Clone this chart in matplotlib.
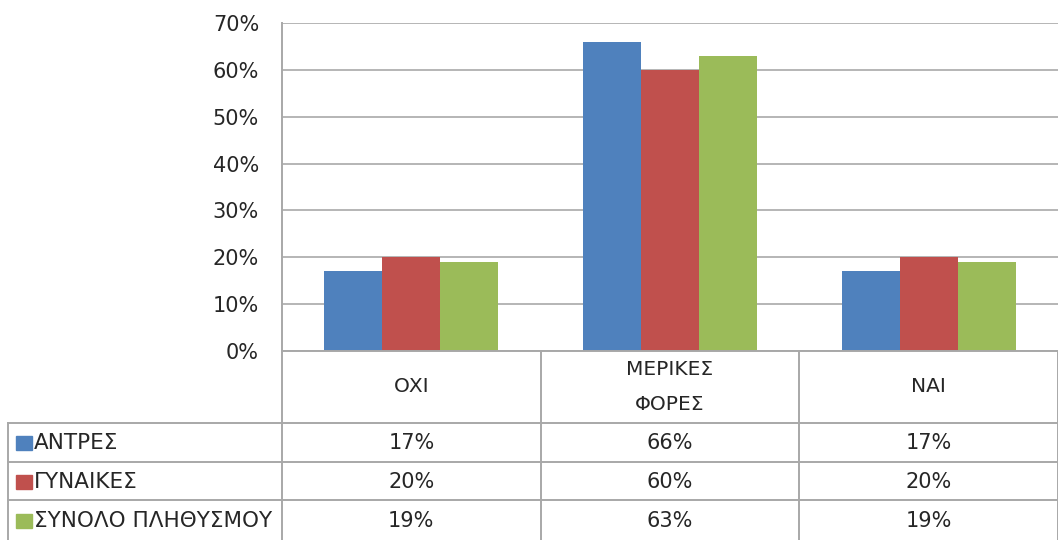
import matplotlib
matplotlib.use("Agg")
import matplotlib.pyplot as plt
from matplotlib.lines import Line2D
from matplotlib.patches import Rectangle

plt.rcParams['font.family'] = ['DejaVu Sans']

categories = ["ΟΧΙ", "ΜΕΡΙΚΕΣ\nΦΟΡΕΣ", "ΝΑΙ"]
series_names = ["ΑΝΤΡΕΣ", "ΓΥΝΑΙΚΕΣ", "ΣΥΝΟΛΟ ΠΛΗΘΥΣΜΟΥ"]
men = [17, 66, 17]
women = [20, 60, 20]
total = [19, 63, 19]
series_values = [men, women, total]
colors = ["#4F81BD", "#C0504D", "#9BBB59"]
y_ticks = [0, 10, 20, 30, 40, 50, 60, 70]

W, H = 1058, 540
fig = plt.figure(figsize=(W / 100, H / 100), dpi=100)
text_c = "#262626"

# plot area in pixel terms
left, right, top, bottom = 282, 1058, 23, 351
ax = fig.add_axes([left / W, (H - bottom) / H, (right - left) / W, (bottom - top) / H])

n = len(categories)
bar_w = 0.224
for k, (vals, c) in enumerate(zip(series_values, colors)):
    xs = [i + (k - 1) * bar_w for i in range(n)]
    ax.bar(xs, vals, width=bar_w, color=c, zorder=3, linewidth=0)

ax.set_xlim(-0.5, n - 0.5)
ax.set_ylim(0, 70)
ax.set_yticks(y_ticks)
ax.set_yticklabels([f"{t}%" for t in y_ticks], fontsize=15, color=text_c)
ax.tick_params(axis="y", length=0, pad=16.5)
ax.set_xticks([])
ax.yaxis.grid(True, color="#B5B5B5", linewidth=1.4, zorder=0)
for s in ["top", "right", "bottom"]:
    ax.spines[s].set_visible(False)
ax.spines["left"].set_color("#A8A8A8")
ax.spines["left"].set_linewidth(1.4)

# data table beneath the chart, drawn in pixel coordinates
ov = fig.add_axes([0, 0, 1, 1], zorder=5)
ov.set_xlim(0, W)
ov.set_ylim(H, 0)
ov.axis("off")
ov.patch.set_alpha(0)

line_c = "#A8A8A8"
cat_w = (right - left) / n
row_lines = [423, 462, 500]
table_left = 8
# horizontal lines
ov.add_line(Line2D([left, right], [bottom, bottom], color=line_c, lw=1.4))
for y in row_lines:
    ov.add_line(Line2D([table_left, right], [y, y], color=line_c, lw=1.4))
# vertical lines
for i in range(n + 1):
    x = left + i * cat_w
    ov.add_line(Line2D([x, x], [bottom, H], color=line_c, lw=1.4))
ov.add_line(Line2D([table_left, table_left], [row_lines[0], H], color=line_c, lw=1.4))

# header row with category names
for i, cat in enumerate(categories):
    ov.text(left + (i + 0.5) * cat_w, 387, cat, ha="center", va="center",
            fontsize=14.5, color=text_c, linespacing=2.1)

# series rows
row_centers = [443, 482, 521]
for k, (name, vals, c) in enumerate(zip(series_names, series_values, colors)):
    yc = row_centers[k]
    ov.add_patch(Rectangle((16, yc - 7), 16, 14, color=c))
    ov.text(34, yc, name, ha="left", va="center", fontsize=15.5, color=text_c)
    for i, v in enumerate(vals):
        ov.text(left + (i + 0.5) * cat_w, yc, f"{v}%", ha="center", va="center",
                fontsize=15, color=text_c)

fig.savefig("out.png", dpi=100)
